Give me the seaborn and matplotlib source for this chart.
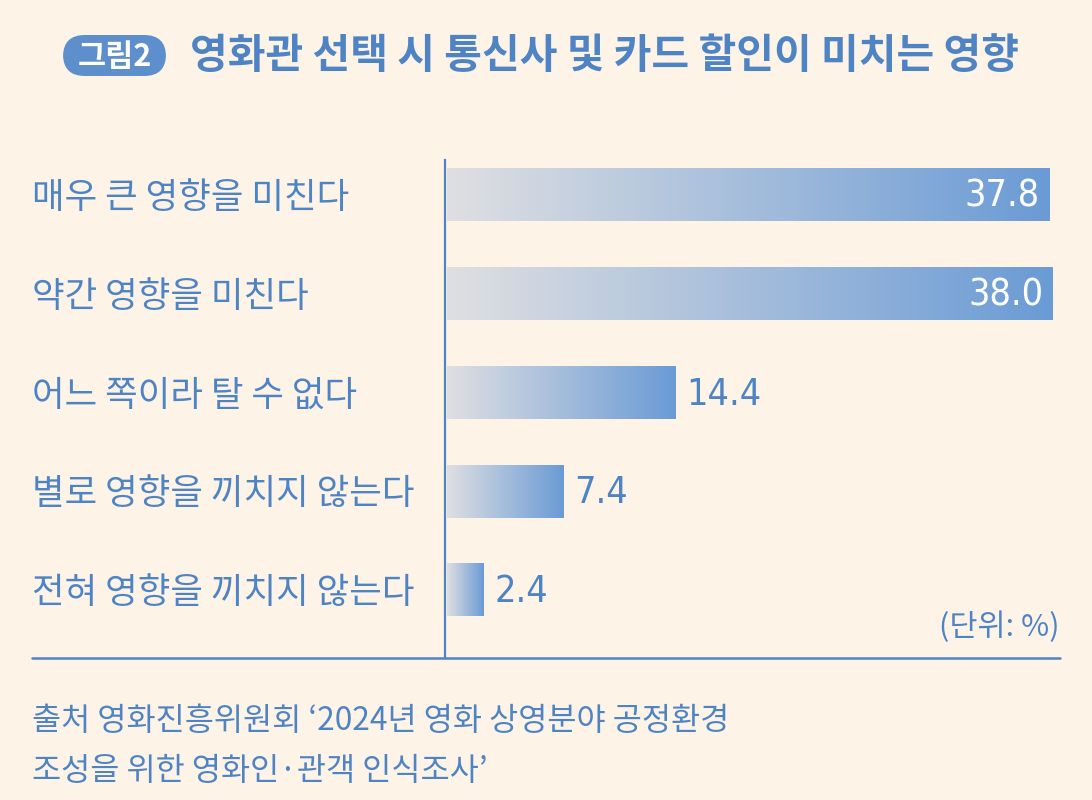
import numpy as np
import pandas as pd
import matplotlib
matplotlib.use("Agg")
import matplotlib.pyplot as plt
import seaborn as sns
from matplotlib.patches import FancyBboxPatch
from matplotlib.colors import LinearSegmentedColormap
import matplotlib.transforms as mtransforms
from matplotlib.lines import Line2D

categories = ["매우 큰 영향을 미친다", "약간 영향을 미친다", "어느 쪽이라 탈 수 없다",
              "별로 영향을 끼치지 않는다", "전혀 영향을 끼치지 않는다"]
values = [37.8, 38.0, 14.4, 7.4, 2.4]
value_labels = ["37.8", "38.0", "14.4", "7.4", "2.4"]
title_text = "영화관 선택 시 통신사 및 카드 할인이 미치는 영향"
badge_text = "그림2"
unit_text = "(단위: %)"
source_lines = ["출처 영화진흥위원회 ‘2024년 영화 상영분야 공정환경",
                "조성을 위한 영화인·관객 인식조사’"]

BG = "#fdf3e7"
BLUE = "#4f84c4"
BAR_END = "#6a9bd5"
BAR_START = "#dfdfe2"

sns.set_theme(style="white")
plt.rcParams["font.family"] = ["Noto Sans CJK KR", "DejaVu Sans"]

W, H = 1092, 800
fig = plt.figure(figsize=(W / 100, H / 100), dpi=100)
fig.patch.set_facecolor(BG)

ax_left, ax_right = 445 / W, 1087 / W
ax_top, ax_bot = 160 / H, 658 / H
ax = fig.add_axes([ax_left, 1 - ax_bot, ax_right - ax_left, ax_bot - ax_top])
ax.set_facecolor("none")

df = pd.DataFrame({"cat": categories, "val": values})
sns.barplot(data=df, y="cat", x="val", orient="h", ax=ax, width=0.53,
            color=BAR_END, saturation=1)
ax.set_xlabel("")
ax.set_ylabel("")
ax.set_xticks([])
ax.set_yticks([])
for s in ["top", "right", "bottom"]:
    ax.spines[s].set_visible(False)
ax.spines["left"].set_color(BLUE)
ax.spines["left"].set_linewidth(1.6)

cmap = LinearSegmentedColormap.from_list("g", [BAR_START, BAR_END])
grad = np.linspace(0, 1, 256).reshape(1, -1)
for p in ax.patches:
    x0, y0 = p.get_x(), p.get_y()
    w, h = p.get_width(), p.get_height()
    p.set_facecolor("none")
    p.set_edgecolor("none")
    ax.imshow(grad, cmap=cmap, aspect="auto", extent=[x0 + 0.1, x0 + w, y0 + h, y0],
              zorder=2, interpolation="bilinear")
ax.set_xlim(0, 40.2)
ax.set_ylim(4.687, -0.354)

for i, (v, lab) in enumerate(zip(values, value_labels)):
    if v > 30:
        ax.text(v - 0.55, i + 0.02, lab, ha="right", va="center", color="white",
                fontsize=27, family="DejaVu Sans", fontstretch="condensed", zorder=3)
    else:
        ax.text(v + 0.7, i + 0.02, lab, ha="left", va="center", color=BLUE,
                fontsize=27, family="DejaVu Sans", fontstretch="condensed", zorder=3)

trans = mtransforms.blended_transform_factory(fig.transFigure, ax.transData)
for i, c in enumerate(categories):
    ax.text(32 / W, i + 0.03, c, transform=trans, ha="left", va="center", color=BLUE,
            fontsize=25.5, clip_on=False)

fig.add_artist(Line2D([32 / W, 1060 / W], [1 - 658 / H, 1 - 658 / H],
                      color=BLUE, lw=1.8, transform=fig.transFigure))

fig.text(1060 / W, 1 - 627 / H, unit_text, ha="right", va="center",
         color=BLUE, fontsize=22)

# title badge
bx0, bx1, by0, by1 = 63 / W, 166 / W, 1 - 76 / H, 1 - 35 / H
badge = FancyBboxPatch((bx0, by0), bx1 - bx0, by1 - by0,
                       boxstyle="round,pad=0,rounding_size=0.02",
                       mutation_aspect=W / H,
                       facecolor="#5e8fcd", edgecolor="none",
                       transform=fig.transFigure)
fig.add_artist(badge)
fig.text((bx0 + bx1) / 2, (by0 + by1) / 2 - 0.002, badge_text, ha="center", va="center",
         color="white", fontsize=22, fontweight="bold")
fig.text(190 / W, 1 - 56 / H, title_text, ha="left", va="center",
         color=BLUE, fontsize=29.5, fontweight="bold")

fig.text(32 / W, 1 - 721 / H, source_lines[0], ha="left", va="center",
         color=BLUE, fontsize=22.8)
fig.text(32 / W, 1 - 771 / H, source_lines[1], ha="left", va="center",
         color=BLUE, fontsize=22.8)

fig.savefig("out.png", dpi=100, facecolor=BG)
